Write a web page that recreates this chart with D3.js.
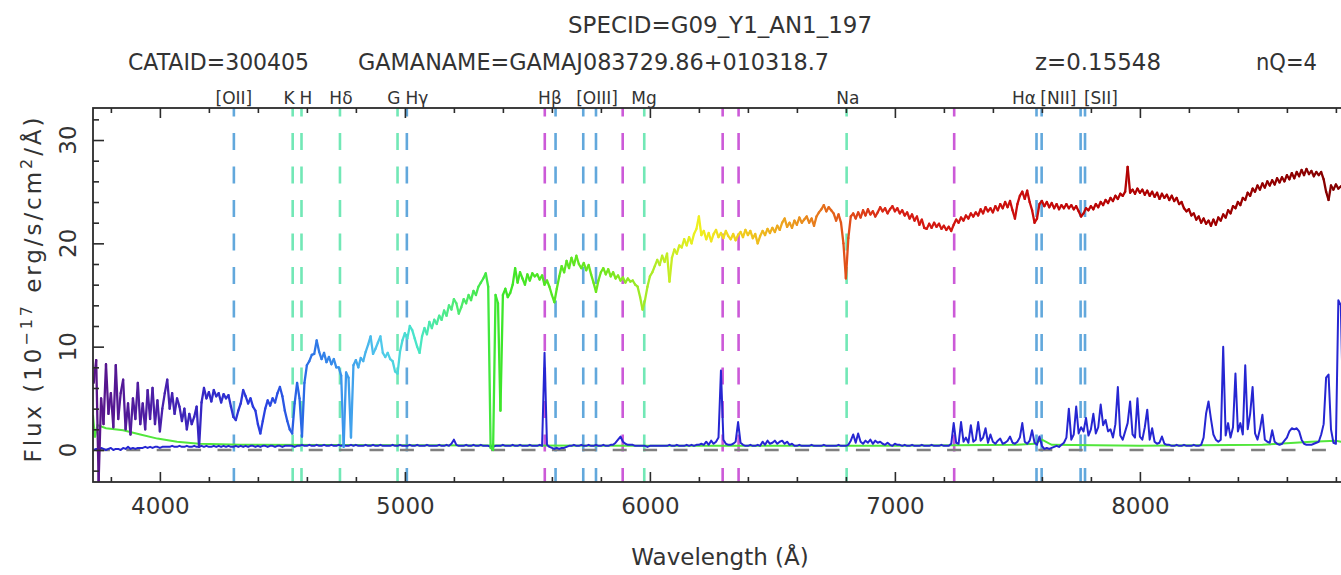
<!DOCTYPE html>
<html>
<head>
<meta charset="utf-8">
<script src="https://cdn.jsdelivr.net/npm/d3@7"></script>
<style>
  body { margin: 0; background: #fff; }
  text { font-family: "DejaVu Sans", sans-serif; fill: #333; }
</style>
</head>
<body>
<svg id="chart" width="1341" height="575"></svg>
<script>
// header text
const specId = "SPECID=G09_Y1_AN1_197";
const headerText = ["CATAID=300405", "GAMANAME=GAMAJ083729.86+010318.7", "z=0.15548", "nQ=4"];

// spectrum sampled every 10 A starting at 3730 A
const lamStart = 3730, lamStep = 10;
const flux = [
  6.5, 8.7, -3.0, 5.0, 2.5, 8.3, 3.5, 5.5, 2.2, 8.2,
  3.0, 5.5, 6.8, 2.0, 4.5, 1.5, 5.0, 3.0, 6.5, 2.5,
  4.5, 2.0, 5.8, 3.0, 6.0, 2.5, 4.8, 1.8, 4.0, 5.5,
  6.8, 4.0, 5.5, 3.5, 5.0, 4.2, 2.8, 4.0, 2.0, 3.5,
  2.5, 3.2, 4.2, 0.3, 4.6, 6.0, 5.0, 5.6, 4.7, 5.8,
  5.2, 5.5, 4.6, 5.4, 5.0, 5.3, 4.2, 3.2, 2.9, 3.8,
  4.5, 5.8, 5.2, 4.5, 5.0, 4.2, 3.8, 2.5, 1.6, 2.8,
  4.0, 4.8, 4.3, 5.0, 4.6, 5.5, 6.1, 5.2, 3.8, 2.8,
  2.0, 1.6, 4.5, 6.5, 5.0, 1.3, 6.5, 8.2, 8.6, 9.2,
  9.3, 10.6, 9.5, 8.8, 9.4, 8.5, 9.0, 8.3, 8.8, 8.0,
  8.0, 7.2, 0.3, 7.5, 7.0, 1.2, 8.2, 8.7, 8.0, 8.9,
  8.6, 9.5, 10.2, 11.0, 9.3, 9.8, 10.4, 11.0, 9.4, 9.0,
  9.4, 8.8, 8.6, 7.6, 7.4, 9.5, 10.6, 11.3, 10.8, 12.0,
  11.6, 10.8, 10.0, 9.4, 11.0, 11.8, 11.2, 12.4, 11.8, 12.6,
  12.2, 13.0, 12.6, 13.5, 13.0, 14.0, 13.6, 14.6, 14.2, 13.2,
  13.8, 14.6, 14.2, 15.0, 14.5, 15.4, 15.0, 15.8, 16.2, 16.6,
  17.1, 15.8, 0.2, 0.0, 15.0, 14.2, 3.8, 15.0, 15.6, 14.8,
  15.2, 16.0, 17.6, 16.2, 17.2, 16.6, 16.0, 17.0, 16.4, 17.1,
  16.8, 17.0, 16.5, 16.9, 16.0, 16.4, 15.8, 15.0, 14.3, 15.6,
  16.8, 17.8, 17.2, 18.3, 17.6, 18.6, 17.9, 18.8, 18.0, 17.6,
  18.1, 17.4, 17.9, 17.0, 16.2, 15.3, 16.4, 17.2, 17.6, 17.0,
  17.5, 16.8, 17.2, 16.6, 16.9, 16.4, 16.7, 16.2, 16.6, 16.3,
  16.4, 16.0, 15.8, 14.8, 13.6, 14.5, 15.8, 16.8, 17.2, 17.8,
  18.4, 17.9, 18.8, 18.2, 19.0, 16.3, 18.6, 19.4, 19.0, 19.8,
  19.6, 20.4, 19.8, 20.6, 20.0, 20.9, 21.4, 22.6, 20.8, 21.2,
  20.4, 21.0, 20.2, 20.9, 21.3, 20.6, 21.0, 20.5, 21.2, 20.7,
  20.4, 20.9, 20.3, 20.8, 21.1, 20.6, 21.3, 20.8, 21.2, 20.5,
  20.9, 20.0, 20.7, 21.2, 20.8, 21.4, 21.0, 21.5, 21.1, 21.7,
  21.3, 22.0, 22.4, 21.6, 22.0, 21.5, 22.2, 21.8, 22.5, 22.0,
  22.3, 22.6, 22.0, 22.4, 21.7, 22.6, 23.0, 23.3, 23.7, 23.1,
  23.5, 23.2, 22.9, 22.2, 22.8, 22.0, 20.0, 16.6, 20.5, 22.6,
  22.9, 22.4, 23.0, 22.5, 23.2, 22.7, 23.3, 22.8, 23.1, 22.6,
  23.0, 23.5, 23.1, 23.4, 22.9, 23.3, 23.6, 23.1, 23.4, 22.9,
  23.2, 22.7, 23.0, 22.4, 22.8, 22.2, 22.6, 21.8, 22.3, 21.5,
  21.4, 21.9, 21.5, 22.0, 21.6, 21.9, 21.4, 21.7, 21.3, 21.6,
  21.2, 21.8, 22.3, 22.0, 22.5, 22.2, 22.7, 22.4, 22.9, 22.6,
  23.0, 22.7, 23.3, 22.9, 23.5, 23.1, 23.4, 23.0, 23.6, 23.2,
  23.8, 23.4, 24.0, 23.5, 24.1, 23.2, 22.4, 23.8, 24.6, 25.0,
  24.3, 25.1, 24.0, 23.2, 22.0, 22.4, 23.8, 24.1, 23.6, 24.0,
  23.5, 23.9, 23.4, 23.8, 23.3, 23.7, 23.4, 23.8, 23.4, 23.7,
  23.3, 23.6, 23.1, 22.6, 22.9, 23.4, 23.2, 23.6, 23.3, 23.8,
  23.5, 24.0, 23.7, 24.2, 23.9, 24.4, 24.1, 24.6, 24.3, 24.8,
  24.6, 25.0, 27.4, 24.9, 25.2, 24.8, 25.3, 24.9, 25.2, 24.7,
  25.1, 24.6, 25.0, 24.5, 24.9, 24.3, 24.8, 24.4, 24.7, 24.2,
  24.6, 24.1, 24.4, 23.8, 24.0, 23.4, 23.1, 23.3, 22.7, 22.9,
  22.3, 22.6, 22.0, 22.4, 21.9, 22.2, 21.7, 22.3, 21.8, 22.5,
  22.2, 22.8, 22.5, 23.2, 22.9, 23.6, 23.4, 24.0, 23.7, 24.4,
  24.2, 24.9, 24.6, 25.3, 25.0, 25.6, 25.2, 25.8, 25.4, 26.0,
  25.6, 26.1, 25.7, 26.3, 25.9, 26.4, 26.0, 26.6, 26.2, 26.8,
  26.3, 26.9, 26.5, 27.1, 26.6, 27.2, 26.7, 27.0, 26.5, 26.9,
  26.6, 26.9, 26.2, 25.0, 24.2, 25.6, 25.2, 25.7, 25.3, 25.5,
  25.4, 25.8, 25.3, 25.6
];
// error spectrum (dark blue), same sampling
const sigma = [
  0.0, 0.1, 0.0, 0.2, 0.1, 0.0, 0.1, 0.2, 0.0, 0.1,
  0.1, 0.0, 0.2, 0.1, 0.3, 0.1, 0.2, 0.1, 0.2, 0.2,
  0.2, 0.3, 0.2, 0.3, 0.2, 0.3, 0.3, 0.2, 0.3, 0.3,
  0.3, 0.3, 0.4, 0.3, 0.3, 0.4, 0.3, 0.3, 0.4, 0.3,
  0.3, 0.4, 0.3, 0.3, 0.4, 0.3, 0.4, 0.3, 0.3, 0.4,
  0.3, 0.4, 0.3, 0.4, 0.3, 0.4, 0.3, 0.3, 0.4, 0.3,
  0.4, 0.3, 0.4, 0.3, 0.4, 0.4, 0.3, 0.4, 0.3, 0.4,
  0.4, 0.3, 0.4, 0.4, 0.3, 0.4, 0.4, 0.3, 0.4, 0.4,
  0.4, 0.4, 0.3, 0.4, 0.4, 0.5, 0.4, 0.4, 0.5, 0.4,
  0.4, 0.5, 0.4, 0.4, 0.5, 0.4, 0.4, 0.5, 0.4, 0.4,
  0.5, 0.4, 0.5, 0.4, 0.4, 0.5, 0.4, 0.5, 0.4, 0.4,
  0.4, 0.5, 0.4, 0.4, 0.5, 0.4, 0.4, 0.5, 0.4, 0.4,
  0.4, 0.4, 0.5, 0.4, 0.4, 0.5, 0.4, 0.4, 0.4, 0.5,
  0.4, 0.4, 0.5, 0.4, 0.4, 0.4, 0.5, 0.4, 0.4, 0.4,
  0.4, 0.5, 0.4, 0.4, 0.5, 0.4, 0.6, 1.0, 0.5, 0.4,
  0.4, 0.4, 0.5, 0.4, 0.4, 0.5, 0.4, 0.4, 0.5, 0.4,
  0.4, 0.4, 0.3, 0.3, 0.4, 0.4, 0.4, 0.5, 0.4, 0.4,
  0.4, 0.5, 0.4, 0.4, 0.5, 0.4, 0.4, 0.4, 0.5, 0.4,
  0.4, 0.4, 0.5, 0.4, 9.4, 0.5, 0.3, 0.2, 0.1, 0.2,
  0.1, 0.2, 0.2, 0.3, 0.4, 0.4, 0.5, 0.4, 0.4, 0.5,
  0.4, 0.4, 0.5, 0.4, 0.4, 0.5, 0.4, 0.4, 0.5, 0.4,
  0.4, 0.5, 0.5, 0.7, 1.0, 1.3, 0.8, 0.6, 0.5, 0.5,
  0.5, 0.4, 0.4, 0.4, 0.4, 0.4, 0.3, 0.4, 0.4, 0.4,
  0.4, 0.4, 0.4, 0.4, 0.4, 0.5, 0.4, 0.4, 0.5, 0.4,
  0.4, 0.4, 0.5, 0.4, 0.5, 0.4, 0.5, 0.5, 0.6, 0.5,
  0.8, 0.5, 0.9, 0.6, 0.8, 1.2, 7.7, 1.0, 0.6, 0.5,
  0.5, 0.6, 0.8, 2.7, 0.7, 0.5, 0.4, 0.4, 0.5, 0.4,
  0.4, 0.5, 0.4, 0.8, 0.5, 0.9, 0.6, 0.7, 0.9, 0.6,
  0.8, 0.9, 0.6, 0.8, 0.5, 0.6, 0.4, 0.4, 0.5, 0.4,
  0.4, 0.4, 0.4, 0.5, 0.4, 0.4, 0.4, 0.4, 0.5, 0.4,
  0.4, 0.4, 0.4, 0.4, 0.5, 0.4, 0.4, 0.4, 0.5, 0.9,
  1.5, 0.7, 1.6, 0.8, 0.6, 0.9, 0.7, 1.0, 0.6, 0.9,
  0.7, 0.8, 0.6, 0.5, 0.7, 0.5, 0.4, 0.6, 0.5, 0.5,
  0.4, 0.5, 0.4, 0.4, 0.5, 0.4, 0.4, 0.4, 0.5, 0.4,
  0.4, 0.4, 0.5, 0.4, 0.4, 0.4, 0.5, 0.4, 0.4, 0.4,
  0.6, 2.6, 0.7, 0.6, 2.7, 0.8, 1.2, 0.7, 2.4, 0.8,
  1.0, 2.7, 0.9, 1.2, 2.1, 0.7, 1.5, 0.8, 0.6, 0.9,
  1.1, 0.6, 0.7, 0.9, 1.3, 0.7, 0.6, 0.8, 1.2, 2.6,
  0.8, 0.6, 0.9, 1.9, 0.7, 0.5, 1.3, 0.4, 0.1, 0.2,
  0.1, 0.2, 0.3, 0.4, 0.3, 0.5, 0.7, 1.2, 4.0, 1.0,
  1.5, 4.2, 1.6, 2.2, 1.8, 3.1, 1.4, 2.0, 3.5, 1.6,
  2.2, 4.4, 2.4, 2.9, 1.8, 2.0, 1.2, 2.5, 6.1, 1.4,
  1.0, 1.8, 2.6, 4.7, 1.5, 1.2, 5.0, 1.3, 1.0, 2.2,
  3.9, 1.0, 2.1, 0.8, 0.6, 0.7, 1.3, 0.6, 0.5, 0.5,
  0.4, 0.4, 0.5, 0.4, 0.4, 0.5, 0.4, 0.4, 0.4, 0.5,
  0.4, 0.4, 0.5, 1.2, 3.5, 4.7, 3.0, 1.5, 1.0, 0.8,
  1.0, 10.0, 1.4, 2.6, 1.2, 2.2, 7.4, 1.8, 2.6, 1.5,
  8.2, 2.0, 3.5, 6.1, 1.6, 1.0, 2.0, 3.4, 1.0, 0.8,
  0.7, 1.9, 0.8, 0.6, 0.5, 0.6, 0.9, 1.2, 1.8, 2.1,
  2.0, 2.1, 1.8, 1.0, 0.6, 0.5, 0.5, 0.5, 0.6, 0.7,
  0.8, 1.5, 2.5, 7.0, 7.3, 2.0, 0.7, 0.6, 14.5, 14.0,
  3.0, 1.0, 0.6, 0.5
];
// light green curve near zero
const greenLam  = [3727, 3735, 3745, 3780, 3850, 3920, 3990, 4070, 4160, 4330, 5000, 6000, 7000, 7500, 7570, 7600, 7640, 8000, 8500, 8700, 8800, 8860];
const greenFlux = [3.4, 1.2, 2.4, 2.1, 1.9, 1.5, 1.1, 0.8, 0.6, 0.5, 0.45, 0.4, 0.4, 0.5, 0.6, 1.0, 0.5, 0.4, 0.5, 0.8, 0.9, 0.6];

// marked lines (observed wavelength) and kind
const markLam  = [4302, 4542, 4578, 4735, 4970, 5008, 5571, 5615, 5728, 5780, 5889, 5977, 6297, 6362, 6803, 7242, 7578, 7599, 7758, 7776];
const markKind = ["em", "abs", "abs", "abs", "abs", "em", "sky", "em", "em", "em", "sky", "abs", "sky", "sky", "abs", "sky", "em", "em", "em", "em"];
const labelText = ["[OII]", "K", "H", "Hδ", "G", "Hγ", "Hβ", "[OIII]", "Mg", "Na", "Hα", "[NII]", "[SII]"];
const labelLam  = [4302, 4527, 4596, 4739, 4955, 5049, 5592, 5784, 5976, 6808, 7527, 7667, 7841];

const xMajor = [4000, 5000, 6000, 7000, 8000];
const yMajor = [0, 10, 20, 30];

const svg = d3.select("#chart");
const pLeft = 93, pRight = 1350.6, pTop = 108, pBottom = 482;

const x = d3.scaleLinear().domain([3727, 8860]).range([pLeft, pRight]);
const y = d3.scaleLinear().domain([-3.1, 33.1]).range([pBottom, pTop]);

const rainbow = d3.scaleLinear()
  .domain([3730, 4000, 4200, 4400, 4600, 4750, 4900, 5050, 5200, 5400, 5800, 6000, 6200, 6400, 6600, 6800, 7000, 7600, 8100, 8860])
  .range(["#5a1488", "#4a20aa", "#3228c8", "#2a3ce0", "#2a6ee6", "#3c96ec", "#50c8ec", "#48e6c8", "#50ec78", "#3ce628",
          "#6ee61e", "#aaeb28", "#f0f01e", "#f0c81e", "#eb961e", "#e15019", "#d71e14", "#c80a0a", "#aa0000", "#820000"])
  .clamp(true);
const markColor = { em: "#62a8dc", abs: "#72e8b6", sky: "#cc5ad8" };

svg.append("clipPath").attr("id", "plotclip")
  .append("rect").attr("x", pLeft).attr("y", pTop).attr("width", pRight - pLeft).attr("height", pBottom - pTop);

const plot = svg.append("g").attr("clip-path", "url(#plotclip)");

// dashed line markers
plot.selectAll(".mark").data(markLam).enter().append("line")
  .attr("x1", d => x(d)).attr("x2", d => x(d))
  .attr("y1", pTop).attr("y2", pBottom)
  .attr("stroke", (d, i) => markColor[markKind[i]])
  .attr("stroke-width", 2.6)
  .attr("stroke-dasharray", "17,16.5")
  .attr("stroke-dashoffset", 8.5);

// green curve
const greenPts = greenLam.map((l, i) => [l, greenFlux[i]]);
plot.append("path")
  .attr("d", d3.line().x(d => x(d[0])).y(d => y(d[1]))(greenPts))
  .attr("fill", "none").attr("stroke", "#52e63c").attr("stroke-width", 2);

// zero line
plot.append("line")
  .attr("x1", pLeft).attr("x2", pRight).attr("y1", y(0)).attr("y2", y(0))
  .attr("stroke", "#7f7f7f").attr("stroke-width", 2.6)
  .attr("stroke-dasharray", "14,16.4").attr("stroke-dashoffset", -2.9);

// error spectrum
const sigPts = sigma.map((v, i) => [lamStart + i * lamStep, v]);
plot.append("path")
  .attr("d", d3.line().x(d => x(d[0])).y(d => y(d[1]))(sigPts))
  .attr("fill", "none").attr("stroke", "#2626d2").attr("stroke-width", 2)
  .attr("stroke-linejoin", "round");

// main spectrum, coloured by wavelength
const fluxPts = flux.map((v, i) => [lamStart + i * lamStep, v]);
plot.selectAll(".seg").data(d3.pairs(fluxPts)).enter().append("line")
  .attr("x1", d => x(d[0][0])).attr("y1", d => y(d[0][1]))
  .attr("x2", d => x(d[1][0])).attr("y2", d => y(d[1][1]))
  .attr("stroke", d => rainbow((d[0][0] + d[1][0]) / 2))
  .attr("stroke-width", 2.3).attr("stroke-linecap", "round");

// frame
svg.append("rect")
  .attr("x", pLeft).attr("y", pTop).attr("width", pRight - pLeft).attr("height", pBottom - pTop)
  .attr("fill", "none").attr("stroke", "#2b2b2b").attr("stroke-width", 1.8);

// axes: ticks point inward
const xMinor = d3.range(3800, 8860, 200).filter(v => v % 1000 !== 0);
const yMinor = d3.range(-2, 33, 2).filter(v => v % 10 !== 0);

function styleAxis(g) {
  g.select(".domain").remove();
  g.attr("color", "#2b2b2b");
  g.selectAll("line").attr("stroke-width", 1.6);
}

svg.append("g").attr("transform", `translate(0,${pBottom})`)
  .call(d3.axisBottom(x).tickValues(xMajor).tickSize(-10).tickSizeOuter(0).tickPadding(16).tickFormat(d3.format("d")))
  .call(styleAxis)
  .attr("font-size", 23);
svg.append("g").attr("transform", `translate(0,${pBottom})`)
  .call(d3.axisBottom(x).tickValues(xMinor).tickSize(-5).tickSizeOuter(0).tickFormat(""))
  .call(styleAxis);
svg.append("g").attr("transform", `translate(0,${pTop})`)
  .call(d3.axisTop(x).tickValues(xMajor).tickSize(-10).tickSizeOuter(0).tickFormat(""))
  .call(styleAxis);
svg.append("g").attr("transform", `translate(0,${pTop})`)
  .call(d3.axisTop(x).tickValues(xMinor).tickSize(-5).tickSizeOuter(0).tickFormat(""))
  .call(styleAxis);
svg.append("g").attr("transform", `translate(${pLeft},0)`)
  .call(d3.axisLeft(y).tickValues(yMajor).tickSize(-11).tickSizeOuter(0).tickFormat(""))
  .call(styleAxis);
svg.append("g").attr("transform", `translate(${pLeft},0)`)
  .call(d3.axisLeft(y).tickValues(yMinor).tickSize(-6).tickSizeOuter(0).tickFormat(""))
  .call(styleAxis);

// rotated y tick labels
svg.selectAll(".ylab").data(yMajor).enter().append("text")
  .attr("transform", d => `translate(68,${y(d)}) rotate(-90)`)
  .attr("text-anchor", "middle").attr("dy", "0.36em")
  .attr("font-size", 23)
  .text(d => d);

// axis titles
svg.append("text")
  .attr("x", 720).attr("y", 565).attr("text-anchor", "middle")
  .attr("font-size", 23).text("Wavelength (Å)");

const ylab = svg.append("text")
  .attr("transform", "translate(41,290) rotate(-90)")
  .attr("text-anchor", "middle").attr("font-size", 23)
  .attr("textLength", 345).attr("lengthAdjust", "spacing");
ylab.append("tspan").text("Flux (10");
ylab.append("tspan").attr("font-size", 16).attr("dy", -9).text("−17");
ylab.append("tspan").attr("dy", 9).text(" erg/s/cm");
ylab.append("tspan").attr("font-size", 16).attr("dy", -9).text("2");
ylab.append("tspan").attr("dy", 9).text("/Å)");

// header
svg.append("text")
  .attr("x", 568).attr("y", 33).attr("font-size", 23)
  .attr("textLength", 304).attr("lengthAdjust", "spacingAndGlyphs")
  .text(specId);
const headerX = [128, 358, 1035, 1256];
const headerW = [181, 471, 126, 61];
svg.selectAll(".hdr").data(headerText).enter().append("text")
  .attr("x", (d, i) => headerX[i]).attr("y", 70).attr("font-size", 23)
  .attr("textLength", (d, i) => headerW[i]).attr("lengthAdjust", "spacingAndGlyphs")
  .text(d => d);

// line labels above the frame
svg.selectAll(".lbl").data(labelText).enter().append("text")
  .attr("x", (d, i) => x(labelLam[i])).attr("y", 104)
  .attr("text-anchor", "middle").attr("font-size", 17)
  .text(d => d);
</script>
</body>
</html>
